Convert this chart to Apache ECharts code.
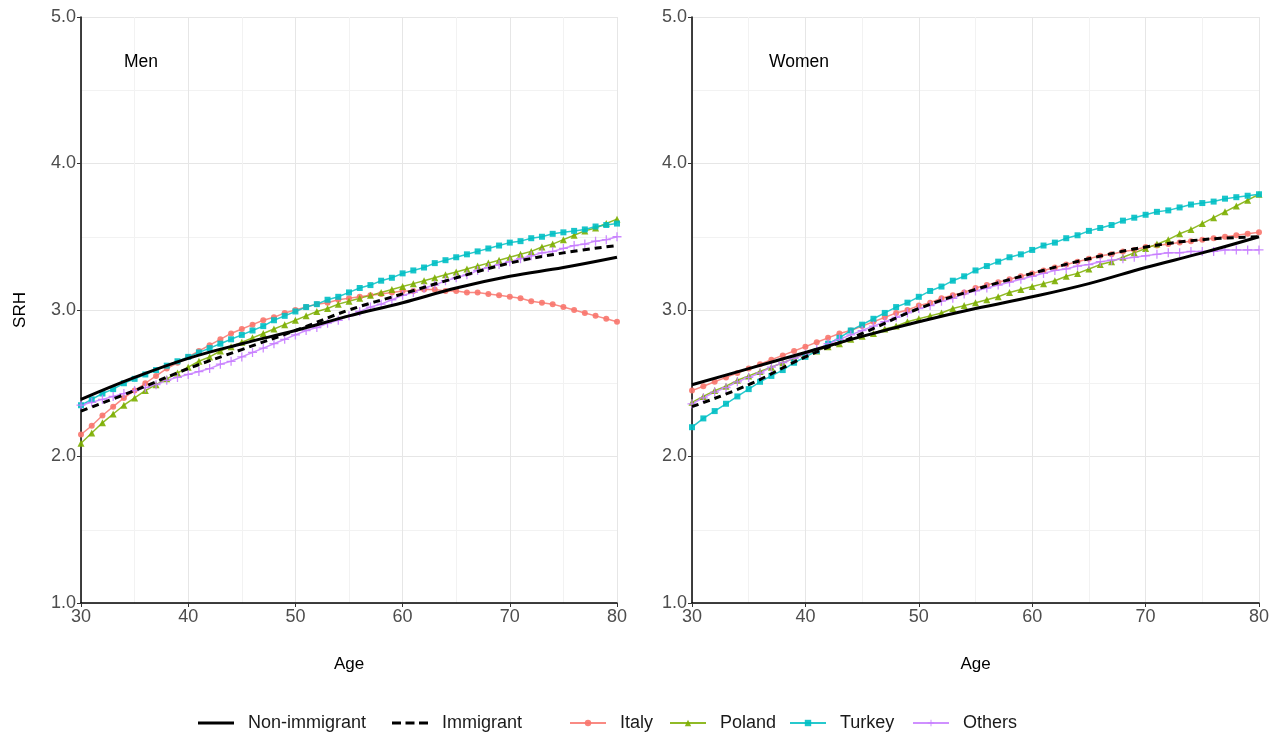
<!DOCTYPE html>
<html>
<head>
<meta charset="utf-8">
<script src="https://cdn.jsdelivr.net/npm/echarts@6/dist/echarts.min.js"></script>
<style>
html,body{margin:0;padding:0;background:#fff;}
#chart{width:1281px;height:740px;}
</style>
</head>
<body>
<div id="chart"></div>
<script>
// ---- data ----
const panels = ['Men', 'Women'];
const yTicks = [1.0, 2.0, 3.0, 4.0, 5.0];
const xTicks = [30, 40, 50, 60, 70, 80];
const agesYearly = [];
for (let a = 30; a <= 80; a++) agesYearly.push(a);
const ages5 = [30, 35, 40, 45, 50, 55, 60, 65, 70, 75, 80];

// Men
const menNonImmigrant = [2.39, 2.54, 2.67, 2.77, 2.86, 2.96, 3.05, 3.15, 3.23, 3.29, 3.36];
const menImmigrant    = [2.31, 2.45, 2.60, 2.73, 2.86, 3.00, 3.11, 3.22, 3.32, 3.39, 3.44];
const menItaly = [2.15,2.21,2.28,2.34,2.40,2.45,2.50,2.55,2.60,2.64,
                  2.68,2.72,2.76,2.80,2.84,2.87,2.90,2.93,2.95,2.98,
                  3.00,3.02,3.04,3.05,3.07,3.08,3.09,3.10,3.11,3.12,
                  3.13,3.13,3.14,3.14,3.13,3.13,3.12,3.12,3.11,3.10,
                  3.09,3.08,3.06,3.05,3.04,3.02,3.00,2.98,2.96,2.94,
                  2.92];
const menPoland = [2.09,2.16,2.23,2.29,2.35,2.40,2.45,2.49,2.53,2.57,
                   2.61,2.65,2.68,2.72,2.75,2.78,2.81,2.84,2.87,2.90,
                   2.93,2.96,2.99,3.01,3.04,3.06,3.08,3.10,3.12,3.14,
                   3.16,3.18,3.20,3.22,3.24,3.26,3.28,3.30,3.32,3.34,
                   3.36,3.38,3.40,3.43,3.45,3.48,3.51,3.54,3.56,3.59,
                   3.62];
const menTurkey = [2.35,2.39,2.43,2.46,2.50,2.53,2.56,2.59,2.62,2.65,
                   2.68,2.71,2.74,2.77,2.80,2.83,2.86,2.89,2.93,2.96,
                   2.99,3.02,3.04,3.07,3.09,3.12,3.15,3.17,3.20,3.22,
                   3.25,3.27,3.29,3.32,3.34,3.36,3.38,3.40,3.42,3.44,
                   3.46,3.47,3.49,3.50,3.52,3.53,3.54,3.55,3.57,3.58,
                   3.59];
const menOthers = [2.35,2.37,2.39,2.41,2.43,2.45,2.47,2.49,2.52,2.54,
                   2.56,2.58,2.60,2.63,2.65,2.68,2.71,2.74,2.77,2.80,
                   2.83,2.86,2.88,2.91,2.93,2.96,2.99,3.02,3.04,3.07,
                   3.10,3.12,3.15,3.17,3.20,3.22,3.24,3.27,3.29,3.31,
                   3.33,3.35,3.37,3.39,3.40,3.42,3.44,3.45,3.47,3.48,
                   3.50];

// Women
const womenNonImmigrant = [2.49, 2.60, 2.71, 2.82, 2.92, 3.01, 3.09, 3.18, 3.29, 3.39, 3.50];
const womenImmigrant    = [2.34, 2.49, 2.68, 2.84, 3.01, 3.14, 3.25, 3.35, 3.43, 3.48, 3.50];
const womenItaly = [2.45,2.48,2.51,2.54,2.57,2.60,2.63,2.66,2.69,2.72,
                    2.75,2.78,2.81,2.84,2.86,2.89,2.92,2.95,2.98,3.00,
                    3.03,3.05,3.08,3.10,3.12,3.15,3.17,3.19,3.21,3.23,
                    3.25,3.27,3.29,3.31,3.33,3.35,3.37,3.38,3.40,3.41,
                    3.43,3.44,3.45,3.46,3.47,3.48,3.49,3.50,3.51,3.52,
                    3.53];
const womenPoland = [2.37,2.41,2.45,2.48,2.52,2.55,2.58,2.61,2.64,2.67,
                     2.70,2.72,2.75,2.77,2.80,2.82,2.84,2.87,2.89,2.92,
                     2.94,2.96,2.98,3.01,3.03,3.05,3.07,3.09,3.12,3.14,
                     3.16,3.18,3.20,3.23,3.25,3.28,3.31,3.33,3.36,3.39,
                     3.42,3.45,3.48,3.52,3.55,3.59,3.63,3.67,3.71,3.75,
                     3.79];
const womenTurkey = [2.20,2.26,2.31,2.36,2.41,2.46,2.51,2.55,2.59,2.64,
                     2.68,2.72,2.77,2.81,2.86,2.90,2.94,2.98,3.02,3.05,
                     3.09,3.13,3.16,3.20,3.23,3.27,3.30,3.33,3.36,3.38,
                     3.41,3.44,3.46,3.49,3.51,3.54,3.56,3.58,3.61,3.63,
                     3.65,3.67,3.68,3.70,3.72,3.73,3.74,3.76,3.77,3.78,
                     3.79];
const womenOthers = [2.36,2.40,2.44,2.47,2.51,2.54,2.57,2.61,2.64,2.67,
                     2.70,2.73,2.77,2.80,2.83,2.86,2.89,2.92,2.95,2.98,
                     3.01,3.03,3.06,3.08,3.11,3.13,3.15,3.17,3.19,3.21,
                     3.23,3.25,3.27,3.28,3.30,3.31,3.33,3.34,3.35,3.36,
                     3.37,3.38,3.39,3.39,3.40,3.40,3.40,3.41,3.41,3.41,
                     3.41];

const legendNames = ['Non-immigrant', 'Immigrant', 'Italy', 'Poland', 'Turkey', 'Others'];

// ---- styles ----
const FONT = 'Liberation Sans, Arial, sans-serif';
const colors = { Italy: '#F8766D', Poland: '#7CAE00', Turkey: '#00BFC4', Others: '#C77CFF' };
const plusPath = 'path://M4.3,0 L5.7,0 L5.7,4.3 L10,4.3 L10,5.7 L5.7,5.7 L5.7,10 L4.3,10 L4.3,5.7 L0,5.7 L0,4.3 L4.3,4.3 Z';
const symbols = { Italy: 'circle', Poland: 'triangle', Turkey: 'rect', Others: plusPath };
const symSizes = { Italy: 6, Poland: 7, Turkey: 6, Others: 9 };
const solidIcon = 'path://M0,0 L36,0 L36,3 L0,3 Z';
const dashIcon = 'path://M0,0 L9,0 L9,3 L0,3 Z M13.5,0 L22.5,0 L22.5,3 L13.5,3 Z M27,0 L36,0 L36,3 L27,3 Z';

function pairs(xs, ys) { return xs.map((x, i) => [x, ys[i]]); }

const panelData = [
  { non: menNonImmigrant, imm: menImmigrant, Italy: menItaly, Poland: menPoland, Turkey: menTurkey, Others: menOthers },
  { non: womenNonImmigrant, imm: womenImmigrant, Italy: womenItaly, Poland: womenPoland, Turkey: womenTurkey, Others: womenOthers }
];

const grids = [
  { left: 81, top: 17, width: 536, height: 586 },
  { left: 692, top: 17, width: 567, height: 586 }
];

const xAxes = grids.map((g, i) => ({
  gridIndex: i, type: 'value', min: 30, max: 80, interval: 10,
  name: 'Age', nameLocation: 'middle', nameGap: 53,
  nameTextStyle: { fontFamily: FONT, fontSize: 17, color: '#000' },
  axisLine: { show: true, onZero: false, lineStyle: { color: '#000', width: 1.5 } },
  axisTick: { show: true, length: 4, lineStyle: { color: '#333' } },
  axisLabel: { fontFamily: FONT, fontSize: 18, color: '#4d4d4d', margin: 5,
               formatter: v => xTicks.includes(v) ? String(v) : '' },
  splitLine: { show: true, lineStyle: { color: '#e6e6e6', width: 1 } },
  minorTick: { show: false, splitNumber: 2 },
  minorSplitLine: { show: true, lineStyle: { color: '#f2f2f2', width: 1 } }
}));

const yAxes = grids.map((g, i) => ({
  gridIndex: i, type: 'value', min: 1, max: 5, interval: 1,
  name: i === 0 ? 'SRH' : '', nameLocation: 'middle', nameGap: 52,
  nameTextStyle: { fontFamily: FONT, fontSize: 17, color: '#000' },
  axisLine: { show: true, onZero: false, lineStyle: { color: '#000', width: 1.5 } },
  axisTick: { show: true, length: 4, lineStyle: { color: '#333' } },
  axisLabel: { fontFamily: FONT, fontSize: 18, color: '#4d4d4d', margin: 5,
               formatter: v => yTicks.includes(v) ? v.toFixed(1) : '' },
  splitLine: { show: true, lineStyle: { color: '#e6e6e6', width: 1 } },
  minorTick: { show: false, splitNumber: 2 },
  minorSplitLine: { show: true, lineStyle: { color: '#f2f2f2', width: 1 } }
}));

const series = [];
panelData.forEach((pd, i) => {
  ['Italy', 'Poland', 'Turkey', 'Others'].forEach(name => {
    series.push({
      name, type: 'line', xAxisIndex: i, yAxisIndex: i,
      data: pairs(agesYearly, pd[name]),
      symbol: symbols[name], symbolSize: symSizes[name], showSymbol: true,
      lineStyle: { color: colors[name], width: 1.5, opacity: 0.85 },
      itemStyle: { color: colors[name], opacity: 0.9 },
      z: 3
    });
  });
  series.push({
    name: 'Non-immigrant', type: 'line', xAxisIndex: i, yAxisIndex: i,
    data: pairs(ages5, pd.non), smooth: 0.4, showSymbol: false, symbol: 'none',
    lineStyle: { color: '#000', width: 3, type: 'solid' }, itemStyle: { color: '#000' }, z: 5
  });
  series.push({
    name: 'Immigrant', type: 'line', xAxisIndex: i, yAxisIndex: i,
    data: pairs(ages5, pd.imm), smooth: 0.4, showSymbol: false, symbol: 'none',
    lineStyle: { color: '#000', width: 3, type: [7, 5] }, itemStyle: { color: '#000' }, z: 5
  });
});

const legendLeft = { 'Non-immigrant': 198, 'Immigrant': 392, 'Italy': 569, 'Poland': 669, 'Turkey': 789, 'Others': 912 };
const legends = legendNames.map(name => {
  const isBlack = name === 'Non-immigrant' || name === 'Immigrant';
  const item = { name };
  if (isBlack) item.icon = name === 'Immigrant' ? dashIcon : solidIcon;
  return {
    data: [item], left: legendLeft[name], top: 714, padding: 0,
    itemWidth: 36, itemHeight: isBlack ? 3 : 8,
    textStyle: { fontFamily: FONT, fontSize: 18, color: '#1a1a1a', padding: [0, 0, 0, 9] }
  };
});

const chart = echarts.init(document.getElementById('chart'), null, { renderer: 'canvas' });
chart.setOption({
  animation: false,
  backgroundColor: '#fff',
  title: [
    { text: panels[0], left: 119, top: 48, textStyle: { fontFamily: FONT, fontSize: 17.5, fontWeight: 'normal', color: '#000' } },
    { text: panels[1], left: 764, top: 48, textStyle: { fontFamily: FONT, fontSize: 17.5, fontWeight: 'normal', color: '#000' } }
  ],
  grid: grids,
  xAxis: xAxes,
  yAxis: yAxes,
  legend: legends,
  series
});
</script>
</body>
</html>
